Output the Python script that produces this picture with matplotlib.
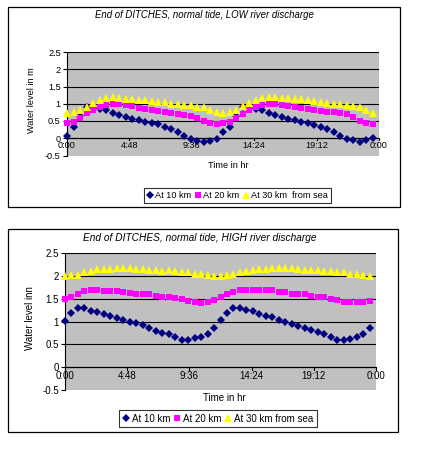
import numpy as np
import matplotlib
matplotlib.use("Agg")
import matplotlib.pyplot as plt
from matplotlib.patches import Rectangle

plt.rcParams['font.family'] = ['Liberation Sans', 'DejaVu Sans']

# half-hourly readings over one day
hours = np.arange(0, 24, 0.5)
tick_pos = [0, 4.8, 9.6, 14.4, 19.2, 24]
tick_labels = ["0:00", "4:48", "9:36", "14:24", "19:12", "0:00"]
y_ticks = [-0.5, 0, 0.5, 1, 1.5, 2, 2.5]
y_tick_labels = ["-0.5", "0", "0.5", "1", "1.5", "2", "2.5"]

# LOW river discharge
low_10km = [0.06, 0.34, 0.65, 0.90, 0.88, 0.86, 0.82, 0.74, 0.68, 0.63, 0.57, 0.52,
            0.47, 0.45, 0.40, 0.34, 0.27, 0.17, 0.07, -0.02, -0.07, -0.12, -0.07, -0.02,
            0.18, 0.33, 0.65, 0.90, 0.88, 0.86, 0.81, 0.74, 0.68, 0.63, 0.57, 0.52,
            0.47, 0.44, 0.39, 0.33, 0.26, 0.18, 0.06, -0.01, -0.06, -0.12, -0.06, 0.01]
low_20km = [0.43, 0.46, 0.58, 0.72, 0.83, 0.91, 0.97, 0.99, 0.99, 0.96, 0.93, 0.89,
            0.86, 0.83, 0.80, 0.77, 0.74, 0.71, 0.68, 0.65, 0.60, 0.50, 0.43, 0.40,
            0.44, 0.47, 0.59, 0.71, 0.83, 0.91, 0.97, 0.99, 0.99, 0.97, 0.94, 0.91,
            0.88, 0.86, 0.83, 0.80, 0.77, 0.75, 0.72, 0.69, 0.63, 0.50, 0.45, 0.42]
low_30km = [0.74, 0.76, 0.81, 0.92, 1.02, 1.12, 1.17, 1.21, 1.17, 1.15, 1.13, 1.12,
            1.10, 1.08, 1.06, 1.04, 1.00, 0.98, 0.97, 0.95, 0.92, 0.90, 0.83, 0.76,
            0.74, 0.75, 0.83, 0.93, 1.02, 1.12, 1.18, 1.20, 1.19, 1.17, 1.16, 1.15,
            1.13, 1.10, 1.08, 1.05, 1.02, 1.00, 0.98, 0.95, 0.93, 0.90, 0.83, 0.74]

# HIGH river discharge
high_10km = [1.02, 1.18, 1.30, 1.29, 1.24, 1.21, 1.16, 1.13, 1.07, 1.03, 1.00, 0.96,
             0.92, 0.86, 0.80, 0.76, 0.72, 0.67, 0.60, 0.60, 0.64, 0.67, 0.72, 0.87,
             1.04, 1.18, 1.30, 1.30, 1.26, 1.24, 1.16, 1.13, 1.10, 1.04, 1.00, 0.95,
             0.91, 0.87, 0.82, 0.77, 0.72, 0.67, 0.60, 0.60, 0.62, 0.67, 0.73, 0.87]
high_20km = [1.50, 1.54, 1.60, 1.68, 1.69, 1.69, 1.68, 1.68, 1.67, 1.66, 1.62, 1.61,
             1.60, 1.60, 1.57, 1.54, 1.53, 1.51, 1.49, 1.46, 1.43, 1.42, 1.44, 1.48,
             1.53, 1.60, 1.66, 1.70, 1.70, 1.70, 1.70, 1.70, 1.69, 1.66, 1.64, 1.61,
             1.60, 1.60, 1.57, 1.55, 1.53, 1.49, 1.48, 1.44, 1.43, 1.43, 1.43, 1.46]
high_30km = [2.01, 2.02, 2.02, 2.10, 2.12, 2.15, 2.16, 2.16, 2.17, 2.17, 2.17, 2.16,
             2.16, 2.14, 2.14, 2.12, 2.13, 2.11, 2.10, 2.08, 2.05, 2.04, 2.02, 2.01,
             2.01, 2.02, 2.04, 2.10, 2.11, 2.13, 2.15, 2.15, 2.17, 2.17, 2.17, 2.17,
             2.16, 2.14, 2.14, 2.14, 2.12, 2.12, 2.08, 2.08, 2.05, 2.05, 2.02, 2.01]

W, H = 430, 450
fig = plt.figure(figsize=(W / 100, H / 100), dpi=100)
fig.patch.set_facecolor("white")


def fx(px):
    return px / W


def fy(py):
    return 1 - py / H


def panel(frame, area, title, title_xy, ylabel, ylabel_x, xlabel_xy, series, labels,
          leg_xy, fs, msize):
    # chart frame
    x0, y0, x1, y1 = frame
    fig.patches.append(Rectangle((fx(x0), fy(y1)), fx(x1 - x0), (y1 - y0) / H,
                                 transform=fig.transFigure, fill=False,
                                 edgecolor="black", lw=0.9))
    l, t, r, b = area
    ax = fig.add_axes([fx(l), fy(b), fx(r - l), (b - t) / H])
    ax.set_facecolor("#C0C0C0")
    ax.set_xlim(0, 24)
    ax.set_ylim(-0.5, 2.5)
    for lev in [0.5, 1, 1.5, 2, 2.5]:
        ax.axhline(lev, color="black", lw=0.8, zorder=1)
    for s in ["top", "bottom", "right"]:
        ax.spines[s].set_visible(False)
    ax.spines["left"].set_color("black")
    ax.spines["left"].set_linewidth(0.8)
    ax.axhline(0, color="black", lw=0.9, zorder=1)
    ax.axvline(24, color="#909090", lw=0.6, zorder=1)

    ax.set_yticks(y_ticks)
    ax.set_yticklabels(y_tick_labels)
    ax.set_xticks([])
    for p, lab in zip(tick_pos, tick_labels):
        ax.plot([p, p], [0, -0.06], color="black", lw=0.8, zorder=2, clip_on=False)
        ax.text(p, -0.09, lab, ha="center", va="top", fontsize=fs)
    ax.tick_params(axis="y", labelsize=fs, length=3, width=0.8, pad=1.5)

    ys, colors, markers = series
    handles = []
    for y, c, m, lab in zip(ys, colors, markers, labels):
        ms = msize * (0.9 if m == "D" else (1.1 if m == "^" else 1.0))
        h, = ax.plot(hours, y, linestyle="none", marker=m, color=c, ms=ms,
                     markeredgewidth=0, label=lab, zorder=3, clip_on=False)
        handles.append(h)

    fig.text(fx(title_xy[0]), fy(title_xy[1]), title, ha="center", va="center",
             fontsize=fs + 0.3, style="italic")
    fig.text(fx(ylabel_x), fy((t + b) / 2 - 4), ylabel, rotation=90, ha="center",
             va="center", fontsize=fs)
    fig.text(fx(xlabel_xy[0]), fy(xlabel_xy[1]), "Time in hr", ha="center",
             va="center", fontsize=fs)
    leg = ax.legend(handles=handles, loc="center", bbox_to_anchor=(fx(leg_xy[0]), fy(leg_xy[1])),
                    bbox_transform=fig.transFigure, ncol=3, fontsize=fs, frameon=True,
                    fancybox=False, edgecolor="black", handlelength=0.6,
                    handletextpad=0.3, columnspacing=0.4, borderpad=0.35,
                    borderaxespad=0)
    leg.get_frame().set_linewidth(0.8)
    return ax


colors = ["#000080", "#FF00FF", "#FFFF00"]
markers = ["D", "s", "^"]

panel((8, 7, 400, 207), (67, 52, 379, 155.5),
      "End of DITCHES, normal tide, LOW river discharge", (204, 15),
      "Water level in m", 32, (228, 165),
      ([low_10km, low_20km, low_30km], colors, markers),
      ["At 10 km", "At 20 km", "At 30 km  from sea"], (237.5, 195.5), 6.6, 4.6)

panel((8, 229, 398, 432), (65, 253.3, 376, 390),
      "End of DITCHES, normal tide, HIGH river discharge", (200, 238),
      "Water level inn", 30, (224, 398),
      ([high_10km, high_20km, high_30km], colors, markers),
      ["At 10 km", "At 20 km", "At 30 km from sea"], (218, 418.5), 7, 5.0)

fig.savefig("out.png", dpi=100)
